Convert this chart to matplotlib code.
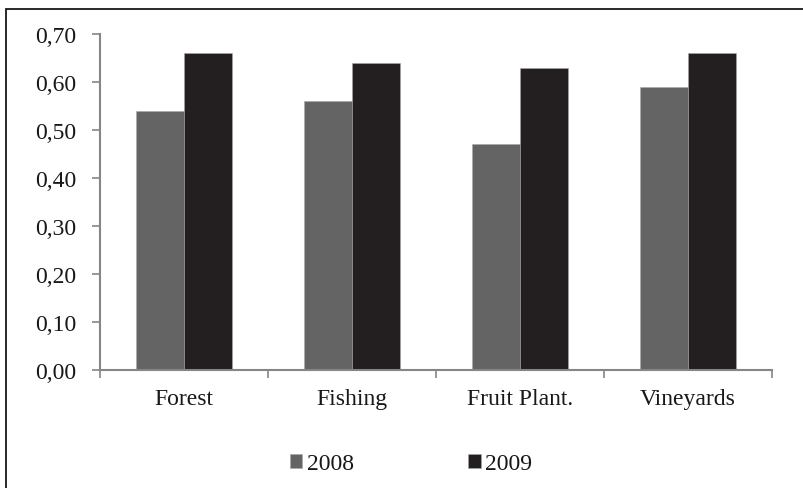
import numpy as np
import matplotlib.pyplot as plt
from matplotlib.patches import Rectangle

# values per sector, two years
sectors = ['Forest', 'Fishing', 'Fruit Plant.', 'Vineyards']
vals_2008 = [0.54, 0.56, 0.47, 0.59]
vals_2009 = [0.66, 0.64, 0.63, 0.66]
years = ['2008', '2009']

plt.rcParams['font.family'] = 'Liberation Serif'
txt_col = '#1a1718'
axis_col = '#868686'
fs = 17

fig = plt.figure(figsize=(8.04, 4.89), dpi=100)
ax = fig.add_axes([100/804, 118/489, 672/804, 336/489])

x = np.arange(len(sectors)) + 0.5
w = 0.283
b1 = ax.bar(x - w/2, vals_2008, w, color='#646464', edgecolor='#a8a8a8', linewidth=0.4, label=years[0])
b2 = ax.bar(x + w/2, vals_2009, w, color='#231f20', edgecolor='#a8a8a8', linewidth=0.4, label=years[1])

ax.set_xlim(0, len(sectors))
ax.set_ylim(0, 0.70)
ax.set_yticks(np.arange(0, 0.71, 0.10))
ax.set_yticklabels([f'{v:.2f}'.replace('.', ',') for v in np.arange(0, 0.71, 0.10)])

# ticks on the category boundaries, labels in the middle
ax.set_xticks(np.arange(len(sectors) + 1))
ax.set_xticklabels([])
ax.set_xticks(x, minor=True)
ax.set_xticklabels(sectors, minor=True)
ax.tick_params(axis='x', which='major', length=6, width=1.2, color=axis_col, direction='out')
ax.tick_params(axis='x', which='minor', length=0, pad=13, labelsize=fs, labelcolor=txt_col)
ax.tick_params(axis='y', length=6, width=1.2, color=axis_col, pad=11, labelsize=fs, labelcolor=txt_col)

for s in ['top', 'right']:
    ax.spines[s].set_visible(False)
for s in ['left', 'bottom']:
    ax.spines[s].set_color(axis_col)
    ax.spines[s].set_linewidth(1.5)

fig.legend(handles=[b1, b2], labels=years, loc='center', bbox_to_anchor=(411/804, 1 - 465/489),
           ncol=2, frameon=False, fontsize=fs, handlelength=0.51, handleheight=0.51,
           handletextpad=0.21, columnspacing=4.87, labelcolor=txt_col)

# outer frame running off the right and bottom edge
fig.patches.append(Rectangle((6/804, -0.1), 1.2, 1 - 9.5/489 + 0.1, transform=fig.transFigure,
                             fill=False, edgecolor=txt_col, linewidth=1.3))

fig.savefig('out.png', dpi=100)
